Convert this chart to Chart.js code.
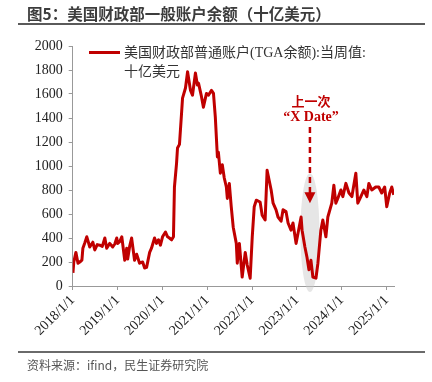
<!DOCTYPE html>
<html><head><meta charset="utf-8">
<script src="https://cdn.jsdelivr.net/npm/chart.js@4.4.1/dist/chart.umd.min.js"></script>
<style>
html,body{margin:0;padding:0;background:#fff;}
#wrap{position:relative;width:432px;height:382px;overflow:hidden;}
canvas{position:absolute;left:0;top:0;}
.t{position:absolute;white-space:nowrap;}
#title{left:27px;top:2px;font:bold 15.5px "Noto Sans CJK SC",sans-serif;color:#3c3c3c;}
#tl{position:absolute;left:18px;top:22.5px;width:407px;height:2px;background:#5a5a5a;}
#bl{position:absolute;left:18px;top:351px;width:407px;height:1.5px;background:#6a6a6a;}
#src{left:27px;top:356px;font:12px "Noto Sans CJK SC",sans-serif;color:#555;}
#leg{left:124px;top:43px;font:14px "Liberation Serif","Noto Sans CJK SC",serif;color:#333;line-height:19px;}
#legline{position:absolute;left:89px;top:51px;width:31px;height:3px;background:#C00000;}
.ann{font:bold 13px "Liberation Serif","Noto Sans CJK SC",serif;color:#C00000;transform:translateX(-50%);}
</style></head>
<body><div id="wrap">
<canvas id="c" width="432" height="382"></canvas>
<div class="t" id="title">图5：美国财政部一般账户余额（十亿美元）</div>
<div id="tl"></div>
<div id="legline"></div>
<div class="t" id="leg">美国财政部普通账户(TGA余额):当周值:<br>十亿美元</div>
<div class="t ann" id="a1" style="left:311px;top:91px;">上一次</div>
<div class="t ann" id="a2" style="left:311px;top:109px;font-size:14px;">“X Date”</div>
<div id="bl"></div>
<div class="t" id="src">资料来源：ifind，民生证券研究院</div>
</div>
<script>
const seriesName = '美国财政部普通账户(TGA余额):当周值:十亿美元';
const dates = [
'2018-01-03','2018-01-10','2018-01-27','2018-02-13','2018-02-28','2018-03-17','2018-03-25','2018-04-10','2018-04-26','2018-05-20','2018-06-14','2018-06-30','2018-07-20','2018-08-10','2018-08-30','2018-09-20','2018-10-05','2018-10-30','2018-11-23','2018-12-10','2018-12-26',
'2019-01-03','2019-01-19','2019-02-05','2019-03-01','2019-03-17','2019-03-25','2019-04-10','2019-04-26','2019-05-20','2019-06-06','2019-06-30','2019-07-25','2019-08-10','2019-08-26','2019-09-20','2019-10-05','2019-10-30','2019-11-15','2019-12-01','2019-12-17',
'2020-01-03','2020-01-27','2020-02-13','2020-02-28','2020-03-17','2020-04-01','2020-04-09','2020-04-26','2020-05-04','2020-05-20','2020-06-06','2020-06-14','2020-07-08','2020-07-25','2020-08-18','2020-09-03','2020-09-27','2020-10-13','2020-10-22','2020-11-15','2020-12-01','2020-12-26',
'2021-01-11','2021-02-05','2021-02-21','2021-03-08','2021-03-25','2021-04-02','2021-04-18','2021-05-04','2021-05-20','2021-06-06','2021-06-14','2021-06-30','2021-07-16','2021-08-01','2021-08-26','2021-09-03','2021-09-20','2021-10-13','2021-11-07','2021-11-23','2021-12-17',
'2022-01-03','2022-01-19','2022-02-05','2022-03-08','2022-03-25','2022-04-18','2022-05-04','2022-06-06','2022-06-22','2022-07-16','2022-08-01','2022-08-26','2022-09-11','2022-10-05','2022-10-22','2022-11-15','2022-12-01','2022-12-26',
'2023-01-11','2023-02-05','2023-02-13','2023-03-08','2023-03-25','2023-04-10','2023-04-26','2023-05-12','2023-06-06','2023-06-22','2023-07-16','2023-08-01','2023-08-26','2023-09-11','2023-10-13','2023-10-30','2023-11-15','2023-12-01','2023-12-26',
'2024-01-11','2024-02-05','2024-03-01','2024-03-25','2024-04-26','2024-05-12','2024-06-06','2024-06-30','2024-07-25','2024-08-10','2024-09-03','2024-10-05','2024-10-30','2024-11-23','2024-12-17',
'2025-01-03','2025-01-27','2025-02-13','2025-03-01'
];
const tgaValues = [
110,200,280,190,200,215,315,360,410,325,365,300,345,340,330,400,315,355,325,350,400,
355,370,410,215,315,225,330,400,215,265,190,200,150,155,280,315,400,355,385,340,
410,450,410,400,385,410,825,1020,1150,1180,1440,1565,1650,1785,1630,1590,1775,1675,1690,1580,1490,1605,
1590,1630,1605,1410,1075,1115,940,1010,900,825,730,855,660,490,355,190,355,75,280,175,65,
410,660,715,700,590,550,965,800,690,635,575,540,635,620,525,465,525,355,
440,575,465,325,240,135,215,75,65,190,465,550,410,575,690,840,690,730,800,
745,855,775,745,940,690,745,800,745,855,800,825,825,775,825,
660,775,825,760
];
const yearTicks = ['2018/1/1','2019/1/1','2020/1/1','2021/1/1','2022/1/1','2023/1/1','2024/1/1','2025/1/1'];

function ts(s){const p=s.split(/[-\/]/).map(Number);return Date.UTC(p[0],p[1]-1,p[2]);}
const pts = dates.map((d,i)=>({x:ts(d),y:tgaValues[i]}));
const tickVals = yearTicks.map(ts);
const tickLabel = {}; yearTicks.forEach(t=>tickLabel[ts(t)]=t);

const annot = {
  id:'annot',
  beforeDatasetsDraw(chart){
    const {ctx,scales:{x,y}}=chart;
    const cx = x.getPixelForValue(ts('2023-04-18'));
    const yTop = y.getPixelForValue(940), yBot = y.getPixelForValue(-50);
    ctx.save();
    ctx.fillStyle='rgba(200,200,200,0.45)';
    ctx.beginPath();
    ctx.ellipse(cx,(yTop+yBot)/2,9.5,(yBot-yTop)/2,0,0,Math.PI*2);
    ctx.fill();
    ctx.restore();
  },
  afterDatasetsDraw(chart){
    const {ctx,scales:{x,y}}=chart;
    const cx = x.getPixelForValue(ts('2023-04-18'));
    const y0 = y.getPixelForValue(1325), y1 = y.getPixelForValue(690);
    ctx.save();
    ctx.strokeStyle='#C00000';ctx.lineWidth=2.5;ctx.setLineDash([6,4]);
    ctx.beginPath();ctx.moveTo(cx,y0);ctx.lineTo(cx,y1-9);ctx.stroke();
    ctx.setLineDash([]);ctx.fillStyle='#C00000';
    ctx.beginPath();ctx.moveTo(cx-5.5,y1-11);ctx.lineTo(cx+5.5,y1-11);ctx.lineTo(cx,y1);ctx.closePath();ctx.fill();
    ctx.restore();
  }
};

new Chart(document.getElementById('c'),{
  type:'line',
  data:{datasets:[{label:seriesName,data:pts,borderColor:'#C00000',borderWidth:3,pointRadius:0,tension:0,fill:false,borderJoinStyle:'round'}]},
  options:{
    responsive:false,animation:false,
    layout:{padding:{left:0,top:46,right:38,bottom:36}},
    plugins:{legend:{display:false},tooltip:{enabled:false}},
    scales:{
      x:{type:'linear',min:ts('2018-01-01'),max:ts('2025-03-03'),
        afterBuildTicks(s){s.ticks=tickVals.map(v=>({value:v}));},
        afterFit(s){s.height=60;},
        grid:{display:true,drawOnChartArea:false,drawTicks:true,tickLength:4,color:'#999'},
        border:{color:'#999',width:1},
        ticks:{autoSkip:false,minRotation:45,maxRotation:45,padding:2,color:'#222',
          font:{family:'"Liberation Serif", serif',size:14},
          callback:(v)=>tickLabel[v]||''}},
      y:{min:0,max:2000,
        afterFit(s){s.width=72.7;},
        grid:{display:true,drawOnChartArea:false,drawTicks:true,tickLength:4,color:'#999'},
        border:{color:'#999',width:1},
        ticks:{stepSize:200,padding:6,color:'#222',font:{family:'"Liberation Serif", serif',size:14},
          callback:(v)=>String(v)}}
    }
  },
  plugins:[annot]
});
</script>
</body></html>
